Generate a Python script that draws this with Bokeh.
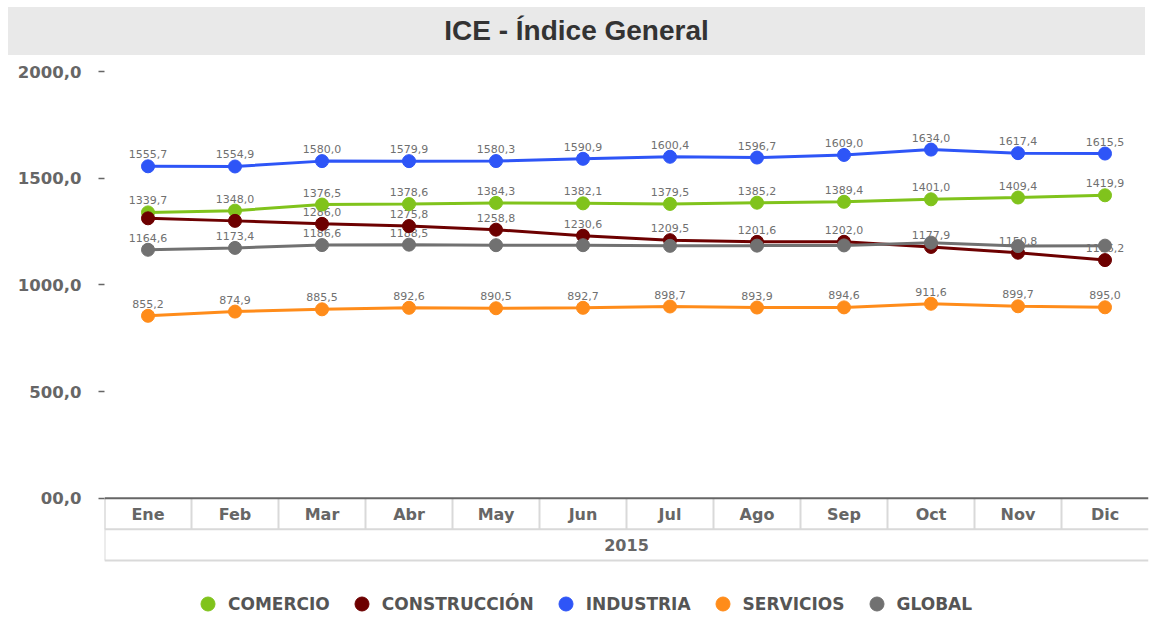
from bokeh.plotting import figure
from bokeh.models import (ColumnDataSource, FactorRange, Range1d, FixedTicker, Span,
                          Legend, LegendItem, Div)
from bokeh.transform import dodge
from bokeh.layouts import column
from bokeh.core.properties import value
from bokeh.embed import file_html
from bokeh.resources import INLINE

# ---------------- data ----------------
title_text = "ICE - Índice General"
months = ["Ene", "Feb", "Mar", "Abr", "May", "Jun", "Jul", "Ago", "Sep", "Oct", "Nov", "Dic"]
year = "2015"
series_names = ["COMERCIO", "CONSTRUCCIÓN", "INDUSTRIA", "SERVICIOS", "GLOBAL"]
comercio = [1339.7, 1348.0, 1376.5, 1378.6, 1384.3, 1382.1, 1379.5, 1385.2, 1389.4, 1401.0, 1409.4, 1419.9]
construccion = [1312.0, 1300.0, 1286.0, 1275.8, 1258.8, 1230.6, 1209.5, 1201.6, 1202.0, 1177.9, 1150.8, 1116.2]
industria = [1555.7, 1554.9, 1580.0, 1579.9, 1580.3, 1590.9, 1600.4, 1596.7, 1609.0, 1634.0, 1617.4, 1615.5]
servicios = [855.2, 874.9, 885.5, 892.6, 890.5, 892.7, 898.7, 893.9, 894.6, 911.6, 899.7, 895.0]
global_ = [1164.6, 1173.4, 1186.6, 1188.5, 1186.0, 1186.0, 1183.0, 1184.0, 1185.0, 1198.0, 1182.0, 1184.0]
# which data labels are visible (overlapping ones are hidden in the original)
show_comercio = [True] * 12
show_construccion = [False, False] + [True] * 10
show_industria = [True] * 12
show_servicios = [True] * 12
show_global = [True] * 4 + [False] * 8
y_ticks = [0, 500, 1000, 1500, 2000]
y_tick_labels = ["00,0", "500,0", "1000,0", "1500,0", "2000,0"]

series_values = [comercio, construccion, industria, servicios, global_]
series_show = [show_comercio, show_construccion, show_industria, show_servicios, show_global]
series_colors = ["#80c31c", "#6d0000", "#2e55f7", "#ff8c1a", "#717171"]

# ---------------- layout constants ----------------
FIG_W, FIG_H = 1142, 560
BORDER_L, BORDER_R, BORDER_T = 96, 2, 16
Y_MAX = 2000
PX_PER_UNIT = 426 / 2000.0          # 2000 units over 426 px
ZERO_FROM_BOTTOM_PX = 117           # distance from y=0 line to the bottom of the frame
Y_MIN = -ZERO_FROM_BOTTOM_PX / PX_PER_UNIT


def px_below_zero(px):
    return -px / PX_PER_UNIT


def fmt(v):
    return f"{v:.1f}".replace(".", ",")


p = figure(width=FIG_W, height=FIG_H, title=None,
           x_range=FactorRange(*months, range_padding=0),
           y_range=Range1d(Y_MIN, Y_MAX),
           x_axis_location=None,
           output_backend="svg", toolbar_location=None,
           min_border_left=BORDER_L, min_border_right=BORDER_R,
           min_border_top=BORDER_T, min_border_bottom=0)
p.outline_line_color = None
p.grid.visible = False
p.background_fill_color = "white"

yax = p.yaxis[0]
yax.ticker = FixedTicker(ticks=y_ticks)
yax.major_label_overrides = {t: l for t, l in zip(y_ticks, y_tick_labels)}
yax.axis_line_color = None
yax.major_tick_line_color = "#666666"
yax.major_tick_line_width = 1.5
yax.major_tick_out = 6
yax.major_tick_in = 0
yax.minor_tick_line_color = None
yax.major_label_standoff = 17
yax.major_label_text_font = "DejaVu Sans"
yax.major_label_text_font_style = "bold"
yax.major_label_text_font_size = "16.5px"
yax.major_label_text_color = "#666666"

# ---------------- category table under the plot ----------------
cat_src = ColumnDataSource(dict(m=months))
p.segment(x0=dodge("m", -0.5, range=p.x_range), y0=0,
          x1=dodge("m", -0.5, range=p.x_range), y1=px_below_zero(31),
          source=cat_src, line_color="#d9d9d9", line_width=2)
p.segment(x0=dodge("m", -0.5, range=p.x_range), y0=0,
          x1=dodge("m", -0.5, range=p.x_range), y1=px_below_zero(62),
          source=ColumnDataSource(dict(m=months[:1])), line_color="#d9d9d9", line_width=2)
p.add_layout(Span(location=px_below_zero(31), dimension="width", line_color="#d9d9d9", line_width=2))
p.add_layout(Span(location=px_below_zero(62), dimension="width", line_color="#d9d9d9", line_width=2))
p.add_layout(Span(location=0, dimension="width", line_color="#666666", line_width=2))

p.text(x="m", y=px_below_zero(16), text="m", source=cat_src,
       text_align="center", text_baseline="middle",
       text_font=value("DejaVu Sans"), text_font_style="bold",
       text_font_size="16px", text_color="#666666")
year_src = ColumnDataSource(dict(m=[months[len(months) // 2 - 1]], t=[year]))
p.text(x=dodge("m", 0.5, range=p.x_range), y=px_below_zero(47), text="t", source=year_src,
       text_align="center", text_baseline="middle",
       text_font=value("DejaVu Sans"), text_font_style="bold",
       text_font_size="16px", text_color="#666666")

# ---------------- data labels (beneath marks) ----------------
for vals, show in zip(series_values, series_show):
    src = ColumnDataSource(dict(
        m=[m for m, s in zip(months, show) if s],
        v=[v for v, s in zip(vals, show) if s],
        t=[fmt(v) for v, s in zip(vals, show) if s]))
    p.text(x="m", y="v", text="t", source=src, y_offset=-12,
           text_align="center", text_baseline="middle",
           text_font=value("DejaVu Sans"), text_font_size="11px", text_color="#707070")

# ---------------- series ----------------
items = []
for name, vals, col in zip(series_names, series_values, series_colors):
    src = ColumnDataSource(dict(m=months, v=vals))
    p.line(x="m", y="v", source=src, line_color=col, line_width=3)
    r = p.scatter(x="m", y="v", source=src, size=13, fill_color=col, line_color=col)
    items.append(LegendItem(label=name, renderers=[r]))

legend = Legend(items=items, orientation="horizontal", location=(86, -6),
                glyph_width=35, glyph_height=35, label_standoff=3, spacing=14,
                padding=0, margin=0, background_fill_alpha=0, border_line_color=None,
                label_text_font="DejaVu Sans", label_text_font_style="bold",
                label_text_font_size="17px", label_text_color="#555555")
p.add_layout(legend)

title = Div(text=(f'<div style="width:1137px;height:48px;line-height:48px;background:#e9e9e9;'
                  f'text-align:center;font-family:\'Liberation Sans\',Arial,sans-serif;'
                  f'font-weight:bold;font-size:28px;color:#333333;">{title_text}</div>'),
            width=1137, height=48, margin=(0, 0, 0, 0))

layout = column(title, p, spacing=0, margin=(7, 0, 0, 8))

open("out.html", "w").write(file_html(layout, INLINE))
